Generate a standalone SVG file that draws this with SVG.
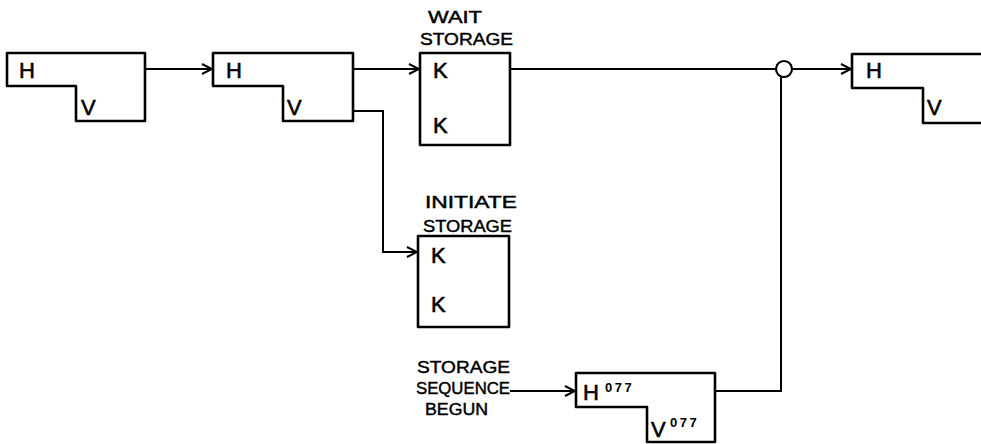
<svg xmlns="http://www.w3.org/2000/svg" width="981" height="444" viewBox="0 0 981 444">
<style>
.box{fill:none;stroke:#000;stroke-width:2.6;stroke-linejoin:round}
.ln{fill:none;stroke:#000;stroke-width:2}
.big{font-family:"Liberation Sans",Arial,sans-serif;font-size:22px;fill:#000;stroke:#000;stroke-width:0.6}
.sup{font-family:"Liberation Sans",Arial,sans-serif;font-size:13px;font-weight:bold;fill:#000;letter-spacing:2.5px}
.lbl{font-family:"Liberation Sans",Arial,sans-serif;font-size:17px;fill:#000;stroke:#000;stroke-width:0.45}
</style>
<defs>
<marker id="ah" markerWidth="12" markerHeight="12" refX="11" refY="6" orient="auto" markerUnits="userSpaceOnUse">
<polyline points="1,1 11,6 1,11" fill="none" stroke="#000" stroke-width="2"/>
</marker>
</defs>
<rect width="981" height="444" fill="#fff"/>
<g id="connectors">
<line class="ln" x1="145" y1="69" x2="212" y2="69" marker-end="url(#ah)"/>
<line class="ln" x1="353" y1="69" x2="419" y2="69" marker-end="url(#ah)"/>
<polyline class="ln" points="353,111 383,111 383,252 417,252" marker-end="url(#ah)"/>
<line class="ln" x1="510" y1="69" x2="776" y2="69"/>
<line class="ln" x1="792" y1="69" x2="851" y2="69" marker-end="url(#ah)"/>
<polyline class="ln" points="715,391 781,391 781,77"/>
<line class="ln" x1="510" y1="391" x2="575" y2="391" marker-end="url(#ah)"/>
<circle cx="784" cy="69" r="8" fill="#fff" stroke="#000" stroke-width="2.2"/>
</g>
<g id="node1">
<path class="box" d="M7,53 H145 V121 H76 V86 H7 Z"/>
<text class="big" x="19" y="78">H</text>
<text class="big" x="81" y="115">V</text>
</g>
<g id="node2">
<path class="box" d="M213,53 H353 V121 H283 V86 H213 Z"/>
<text class="big" x="226" y="78">H</text>
<text class="big" x="287" y="115">V</text>
</g>
<g id="wait">
<text class="lbl" x="428" y="23" textLength="54" lengthAdjust="spacingAndGlyphs">WAIT</text>
<text class="lbl" x="420" y="45" textLength="93" lengthAdjust="spacingAndGlyphs">STORAGE</text>
<rect class="box" x="420" y="53" width="90" height="92"/>
<text class="big" x="433" y="78">K</text>
<text class="big" x="433" y="133">K</text>
</g>
<g id="initiate">
<text class="lbl" x="425" y="208" textLength="92" lengthAdjust="spacingAndGlyphs">INITIATE</text>
<text class="lbl" x="423" y="232" textLength="89" lengthAdjust="spacingAndGlyphs">STORAGE</text>
<rect class="box" x="418" y="236" width="91" height="91"/>
<text class="big" x="431" y="263">K</text>
<text class="big" x="431" y="312">K</text>
</g>
<g id="begun">
<text class="lbl" x="417" y="373" textLength="93" lengthAdjust="spacingAndGlyphs">STORAGE</text>
<text class="lbl" x="416" y="394" textLength="94" lengthAdjust="spacingAndGlyphs">SEQUENCE</text>
<text class="lbl" x="425" y="415" textLength="63" lengthAdjust="spacingAndGlyphs">BEGUN</text>
</g>
<g id="node077">
<path class="box" d="M576,373 H715 V442 H647 V407 H576 Z"/>
<text class="big" x="583" y="400">H</text>
<text class="sup" x="605" y="392">077</text>
<text class="big" x="651" y="437">V</text>
<text class="sup" x="670" y="427">077</text>
</g>
<g id="node4">
<path class="box" d="M990,54 H852 V88 H923 V123 H990"/>
<text class="big" x="866" y="78">H</text>
<text class="big" x="927" y="115">V</text>
</g>
</svg>
